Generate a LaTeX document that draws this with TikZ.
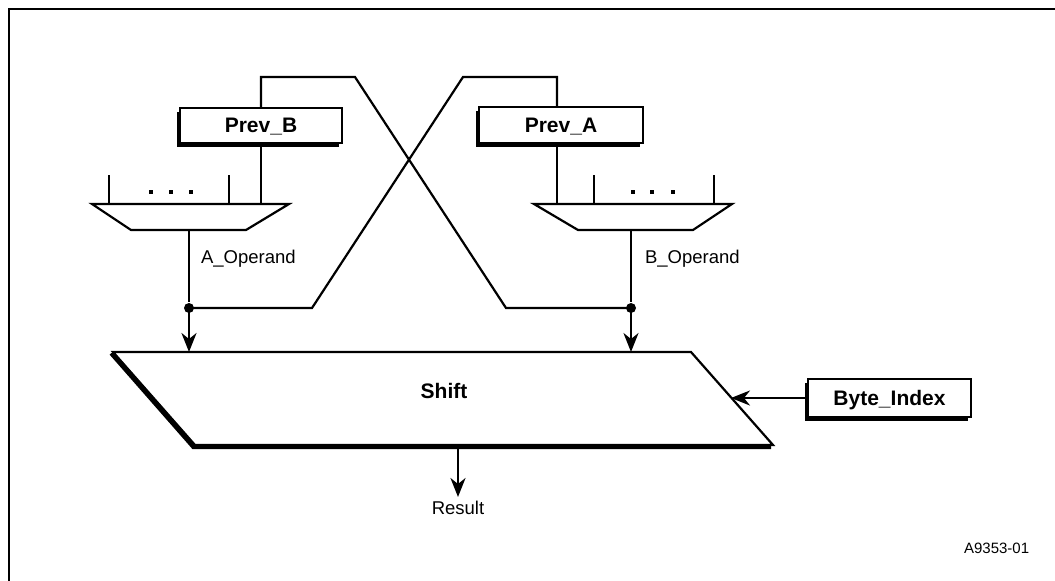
\documentclass[tikz,border=0pt]{standalone}
\usepackage{fontspec}
\setmainfont{Liberation Sans}
\usetikzlibrary{arrows.meta,shadows}
\begin{document}
\begin{tikzpicture}[x=1pt,y=-1pt, line width=2.2pt, line join=miter,
  regbox/.style={draw, fill=white, line width=2pt, inner sep=0pt,
    text height=14.8pt, text depth=0pt,
    general shadow={fill=black, shadow xshift=-3.5pt, shadow yshift=-3.5pt},
    font=\fontsize{21}{21}\selectfont\bfseries},
  arr/.style={-{Stealth[length=19pt,width=15pt,inset=6pt]}},
  lbl/.style={font=\fontsize{18.5}{18.5}\selectfont, inner sep=0pt},
  jdot/.style={circle, fill, inner sep=0pt, minimum size=10pt},
  muxdot/.style={fill, inner sep=0pt, minimum size=3.4pt}
]
\useasboundingbox (0,0) rectangle (1055,581);
% frame
\draw (9,581) -- (9,9) -- (1055,9);

% boxes
\node[regbox, minimum width=162pt, minimum height=35pt] (PB) at (261,125.5) {Prev\_B};
\node[regbox, minimum width=164pt, minimum height=36pt] (PA) at (561,125) {Prev\_A};
\node[regbox, minimum width=163pt, minimum height=38pt] (BI) at (889.5,398) {Byte\_Index};

% muxes
\coordinate (mLtl) at (92,204);  \coordinate (mLtr) at (289,204);
\coordinate (mLbr) at (246,230); \coordinate (mLbl) at (131,230);
\draw (mLtl) -- (mLtr) -- (mLbr) -- (mLbl) -- cycle;
\coordinate (mRtl) at (534,204); \coordinate (mRtr) at (732,204);
\coordinate (mRbr) at (693,230); \coordinate (mRbl) at (578,230);
\draw (mRtl) -- (mRtr) -- (mRbr) -- (mRbl) -- cycle;

% mux inputs
\coordinate (inL1) at (109,204); \coordinate (inL2) at (229,204); \coordinate (inL3) at (261,204);
\coordinate (inR1) at (557,204); \coordinate (inR2) at (594,204); \coordinate (inR3) at (714,204);
\draw (inL1) -- ++(0,-29);
\draw (inL2) -- ++(0,-29);
\draw (inR2) -- ++(0,-29);
\draw (inR3) -- ++(0,-29);
\node[muxdot] (dL1) at (151,192) {};
\node[muxdot] (dL2) at (171,192) {};
\node[muxdot] (dL3) at (191,192) {};
\node[muxdot] (dR1) at (633,192) {};
\node[muxdot] (dR2) at (652,192) {};
\node[muxdot] (dR3) at (673,192) {};

\draw (PB.south) -- (inL3);
\draw (inR1 |- PA.south) -- (inR1);

% outputs and junctions
\coordinate (oL) at (189,230);
\coordinate (oR) at (631,230);
\node[jdot] (jA) at (189,308) {};
\node[jdot] (jB) at (631,308) {};
\coordinate (sA) at (189,352);
\coordinate (sB) at (631,352);
\draw (oL) -- (jA);
\draw (oR) -- (jB);
\draw[arr] (jA.center) -- (sA);
\draw[arr] (jB.center) -- (sB);

% cross-over feedback
\coordinate (pbt) at (261,77);
\coordinate (pbr) at (355,77);
\coordinate (xb) at (506,308);
\draw (PB.north) -- (pbt) -- (pbr) -- (xb) -- (jB.center);
\coordinate (pat) at (557,77);
\coordinate (pal) at (463,77);
\coordinate (xa) at (312,308);
\draw (pat |- PA.north) -- (pat) -- (pal) -- (xa) -- (jA.center);

\node[lbl, anchor=base west] (AOp) at (200,263) {A\_Operand};
\node[lbl, anchor=base west] (BOp) at (644,263) {B\_Operand};

% shift unit
\coordinate (s1) at (113,352); \coordinate (s2) at (691,352);
\coordinate (s3) at (773,445); \coordinate (s4) at (195,445);
\draw (s1) -- (s2) -- (s3) -- (s4) -- cycle;
\draw[line width=5pt] ([shift={(-1.5,1)}]s1) -- ([shift={(-1.5,1.5)}]s4) -- ([shift={(-2,1.5)}]s3);
\node[font=\fontsize{21}{21}\selectfont\bfseries, inner sep=0pt, anchor=base] (SH) at (444,398) {Shift};

% byte index
\coordinate (bin) at (731,398);
\draw[arr] (BI.west) -- (bin);

% result
\coordinate (rs) at (458,447);
\node[lbl, anchor=base] (RES) at (458,514) {Result};
\draw[arr] (rs) -- (458,497);

\node[font=\fontsize{15}{15}\selectfont, inner sep=0pt, anchor=base west] (ID) at (963,553) {A9353-01};
\end{tikzpicture}
\end{document}
